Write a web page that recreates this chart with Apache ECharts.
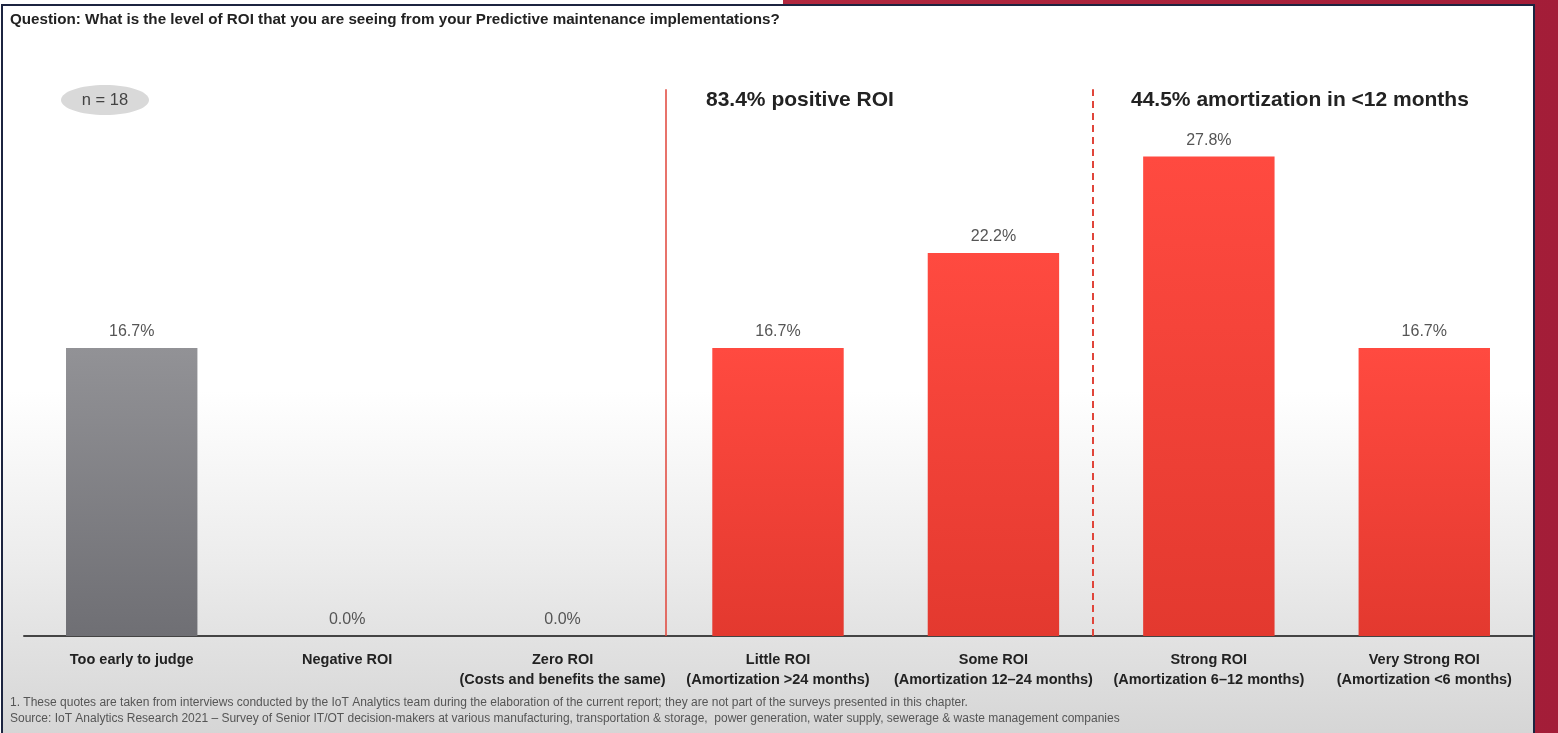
<!DOCTYPE html>
<html>
<head>
<meta charset="utf-8">
<script src="https://cdn.jsdelivr.net/npm/echarts@6/dist/echarts.min.js"></script>
<style>
  html, body { margin:0; padding:0; width:1558px; height:733px; overflow:hidden; background:#ffffff; }
  #frame { position:absolute; left:783px; top:0; width:775px; height:733px; background:linear-gradient(90deg,#b2283f,#a31d38); }
  #panel { position:absolute; left:1px; top:4px; width:1530px; height:740px; border:2px solid #1c2440;
           background:linear-gradient(180deg,#ffffff 0%,#ffffff 52%,#ececec 75%,#d4d4d4 100%); }
  #chart { position:absolute; left:0; top:0; width:1558px; height:733px; }
</style>
</head>
<body>
<div id="frame"></div>
<div id="panel"></div>
<div id="chart"></div>
<script>
const categories = [
  "Too early to judge",
  "Negative ROI",
  "Zero ROI\n(Costs and benefits the same)",
  "Little ROI\n(Amortization >24 months)",
  "Some ROI\n(Amortization 12–24 months)",
  "Strong ROI\n(Amortization 6–12 months)",
  "Very Strong ROI\n(Amortization <6 months)"
];
const values = [16.7, 0.0, 0.0, 16.7, 22.2, 27.8, 16.7];
const dividers = [2.98, 4.96];
const titleText = "Question: What is the level of ROI that you are seeing from your Predictive maintenance implementations?";
const annotations = ["83.4% positive ROI", "44.5% amortization in <12 months"];
const sampleText = "n = 18";
const footnotes = [
  "1. These quotes are taken from interviews conducted by the IoT Analytics team during the elaboration of the current report; they are not part of the surveys presented in this chapter.",
  "Source: IoT Analytics Research 2021 – Survey of Senior IT/OT decision-makers at various manufacturing, transportation & storage,  power generation, water supply, sewerage & waste management companies"
];

const redGrad = new echarts.graphic.LinearGradient(0,0,0,1,[{offset:0,color:'#ff4a40'},{offset:1,color:'#e3392f'}]);
const grayGrad = new echarts.graphic.LinearGradient(0,0,0,1,[{offset:0,color:'#929296'},{offset:1,color:'#6f6f74'}]);

const chart = echarts.init(document.getElementById('chart'));
const FONT = '"Liberation Sans", Arial, sans-serif';
chart.setOption({
  backgroundColor: 'transparent',
  animation: false,
  grid: { left: 24, right: 26, top: 84, bottom: 97 },
  xAxis: [{
    type: 'category',
    data: categories,
    axisLine: { lineStyle: { color: '#444', width: 2 } },
    axisTick: { show: false },
    axisLabel: { interval: 0, margin: 14, fontFamily: FONT, fontSize: 14.5, fontWeight: 'bold', color: '#222', lineHeight: 20 }
  }, {
    type: 'value', min: 0, max: 7, show: false
  }],
  yAxis: { type: 'value', min: 0, max: 32, show: false, splitLine: { show: false } },
  series: [{
    type: 'bar',
    barWidth: '61%',
    data: values.map((v, i) => ({ value: v, itemStyle: { color: i === 0 ? grayGrad : redGrad } })),
    label: {
      show: true, position: 'top', distance: 8,
      formatter: p => p.value.toFixed(1) + '%',
      fontFamily: FONT, fontSize: 16, color: '#555'
    }
  }, {
    type: 'line',
    xAxisIndex: 1,
    data: [],
    markLine: {
      symbol: 'none', silent: true, label: { show: false },
      data: dividers.map((d, i) => [
        { coord: [d, 0], lineStyle: { color: '#e0453a', width: i === 0 ? 1.5 : 2, type: i === 0 ? 'solid' : [7, 5] } },
        { coord: [d, 31.7] }
      ])
    }
  }],
  graphic: [
    { type: 'text', left: 10, top: 12, style: { text: titleText, font: 'bold 15.2px ' + FONT, fill: '#222' } },
    { type: 'ellipse', shape: { cx: 105, cy: 100, rx: 44, ry: 15 }, style: { fill: '#d9d9d9' } },
    { type: 'text', x: 105, y: 100, style: { text: sampleText, font: '16.5px ' + FONT, fill: '#444', align: 'center', verticalAlign: 'middle' } },
    { type: 'text', left: 706, top: 90, style: { text: annotations[0], font: 'bold 21px ' + FONT, fill: '#222' } },
    { type: 'text', left: 1131, top: 90, style: { text: annotations[1], font: 'bold 21px ' + FONT, fill: '#222' } },
    { type: 'text', left: 10, top: 697, style: { text: footnotes[0], font: '12px ' + FONT, fill: '#555' } },
    { type: 'text', left: 10, top: 713, style: { text: footnotes[1], font: '12px ' + FONT, fill: '#555' } }
  ]
});
</script>
</body>
</html>
